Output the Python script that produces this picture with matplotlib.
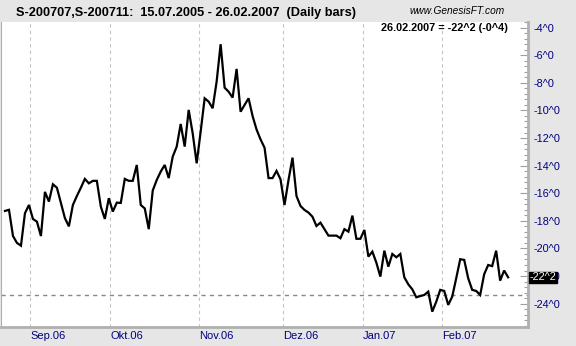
import matplotlib
matplotlib.use("Agg")
import matplotlib.pyplot as plt
from matplotlib.ticker import FixedLocator, MultipleLocator

plt.rcParams['font.family'] = ['Liberation Sans', 'DejaVu Sans']

# daily closes of the spread
spread = [
    -17.28, -17.2, -19.1, -19.6, -19.8, -17.45, -16.85, -17.86, -18.06, -19.1,
    -15.9, -16.6, -15.35, -15.6, -16.7, -17.8, -18.4, -16.85, -16.2, -15.6,
    -14.96, -15.28, -15.1, -15.1, -16.97, -17.86, -16.36, -17.33, -16.68, -16.7,
    -14.96, -15.1,
    -15.1, -13.95, -16.85, -17.1, -18.6, -15.8, -15.04, -14.43, -13.95, -14.9,
    -13.35, -12.62, -10.98, -12.62, -9.96, -11.65, -13.83, -11.53, -9.12, -9.36,
    -9.84, -7.91, -5.2, -8.35, -8.64, -9.07, -6.99, -10.09, -9.6, -9.12,
    -10.4, -11.38, -12.1, -12.7, -14.9, -14.9, -14.38, -14.99, -16.85, -15.04,
    -13.42, -16.2, -16.92, -17.21, -17.4, -17.7, -18.37, -18.13, -18.6, -19.07,
    -19.07, -19.07, -19.26, -18.6, -18.78, -17.62, -19.3, -19.3, -18.66, -20.59,
    -20.23, -21.03, -22.04,
    -20.16, -21.32, -20.4, -20.64, -20.4, -22.09, -22.6, -22.96, -23.54, -23.45,
    -23.37, -23.13, -24.58, -23.86, -23.0, -23.08, -24.09, -23.49, -22.16, -20.78,
    -20.83, -22.16, -23.0, -23.08, -23.37, -21.87, -21.2, -21.28, -20.16, -22.33,
    -21.6, -22.09,
]

month_pos = [6.26, 26.4, 48.5, 69.6, 89.6, 109.5]
month_labels = ['Sep.06', 'Okt.06', 'Nov.06', 'Dez.06', 'Jan.07', 'Feb.07']
y_ticks = [-4, -6, -8, -10, -12, -14, -16, -18, -20, -22, -24]
low_line = -23.4
last_label = '-22^2'
title = 'S-200707,S-200711:  15.07.2005 - 26.02.2007  (Daily bars)'
info = '26.02.2007 = -22^2 (-0^4)'

W, H = 576, 346
bg = '#e6e6e6'
navy = '#000080'
frame = '#b0b0b0'

fig = plt.figure(figsize=(W / 100, H / 100), dpi=100, facecolor=bg)
ax = fig.add_axes([1 / W, 1 - 326.7 / H, 526.7 / W, 304.7 / H])
ax.set_facecolor('white')

x = list(range(len(spread)))
ax.plot(x, spread, color='black', lw=1.6, solid_joinstyle='miter', zorder=3)

ax.set_xlim(-1.0, 130.9)
ax.set_ylim(-25.67, -3.59)

# vertical month grid
for p in month_pos:
    ax.axvline(p, color='#c4c4c4', lw=0.8, ls=(0, (3, 3)), zorder=1)
ax.axhline(low_line, color='#888888', lw=1.0, ls=(0, (3, 3)), zorder=2)

ax.xaxis.set_major_locator(FixedLocator(month_pos))
ax.set_xticklabels(month_labels)
ax.tick_params(axis='x', length=0, pad=3, labelsize=8, labelcolor=navy)
for lbl in ax.get_xticklabels():
    lbl.set_horizontalalignment('left')

ax.yaxis.tick_right()
ax.yaxis.set_major_locator(FixedLocator(y_ticks))
ax.yaxis.set_minor_locator(MultipleLocator(0.4))
ax.set_yticklabels([f'{v}^0' for v in y_ticks])
ax.tick_params(axis='y', which='major', direction='in', length=5.8, width=0.8,
               color='#a0a0a0', pad=4, labelsize=7.8, labelcolor=navy)
ax.tick_params(axis='y', which='minor', direction='in', length=2.9, width=0.8,
               color='#a0a0a0')

ax.spines['top'].set_visible(False)
ax.spines['left'].set_color(frame)
ax.spines['left'].set_linewidth(0.8)
ax.spines['right'].set_color(frame)
ax.spines['right'].set_linewidth(2.0)
ax.spines['bottom'].set_color(frame)
ax.spines['bottom'].set_linewidth(2.0)

# current value box on the right axis (covers most of the -22^0 label)
ax.annotate(last_label, xy=(1.0, spread[-1]), xycoords=('axes fraction', 'data'),
            xytext=(1.5, 0), textcoords='offset points', ha='left', va='center',
            fontsize=7.8, color='white',
            bbox=dict(boxstyle='square,pad=0.06', fc='black', ec='black'),
            annotation_clip=False, zorder=5)

fig.text(16.5 / W, 1 - 13 / H, title, fontsize=9.2, fontweight='bold',
         ha='left', va='center')
fig.text(409 / W, 1 - 11 / H, 'www.GenesisFT.com', fontsize=7.3, style='italic',
         ha='left', va='center')
fig.text(508 / W, 1 - 28 / H, info, fontsize=7.8, fontweight='bold',
         ha='right', va='center')

fig.savefig('out.png', dpi=100, facecolor=bg)
